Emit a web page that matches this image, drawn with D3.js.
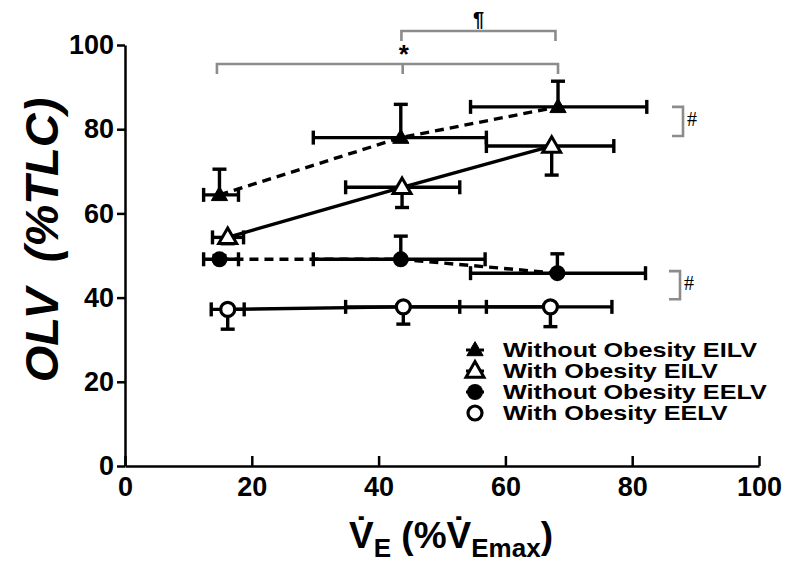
<!DOCTYPE html>
<html>
<head>
<meta charset="utf-8">
<script src="https://cdn.jsdelivr.net/npm/d3@7"></script>
<style>
  body { margin: 0; background: #fff; }
  svg { font-family: "Liberation Sans", Arial, sans-serif; }
  .axis path, .axis line { stroke: #000; stroke-width: 2.5; }
  .axis text { font-size: 27px; font-weight: bold; fill: #000; }
</style>
</head>
<body>
<svg width="787" height="566"></svg>
<script>
// series names (legend order)
var seriesNames = ["Without Obesity EILV", "With Obesity EILV", "Without Obesity EELV", "With Obesity EELV"];

// VE (%VEmax) means and horizontal error bar ends
var xWithoutEILV = [14.9, 43.5, 68.3];
var xWithEILV = [16.2, 43.7, 67.3];
var xWithoutEELV = [14.9, 43.5, 68.2];
var xWithEELV = [16.2, 43.9, 67.1];
var xLoWithoutEILV = [12.4, 29.7, 54.5], xHiWithoutEILV = [17.9, 57.0, 82.3];
var xLoWithEILV = [13.8, 34.8, 57.0], xHiWithEILV = [18.7, 52.8, 77.1];
var xLoWithoutEELV = [12.4, 29.7, 54.5], xHiWithoutEELV = [17.9, 56.8, 82.1];
var xLoWithEELV = [13.6, 34.8, 57.0], xHiWithEELV = [18.8, 52.8, 76.8];

// OLV (%TLC) means and vertical error bar ends (one side only)
var yWithoutEILV = [64.4, 78.0, 85.3];
var yWithEILV = [54.3, 66.2, 76.0];
var yWithoutEELV = [49.1, 49.1, 45.8];
var yWithEELV = [37.2, 37.8, 37.8];
var yEndWithoutEILV = [70.5, 85.9, 91.4];
var yEndWithEILV = [52.8, 61.4, 69.1];
var yEndWithoutEELV = [50.0, 54.6, 50.4];
var yEndWithEELV = [32.5, 33.7, 33.1];

var tickVals = [0, 20, 40, 60, 80, 100];

// significance brackets
var starBracket = [14.5, 43.8, 68.3];   // left, middle, right
var paraBracket = [43.6, 67.9];
var hashBrackets = [[85.3, 78.4], [46.3, 39.6]];

var series = [
  {name: seriesNames[0], x: xWithoutEILV, lo: xLoWithoutEILV, hi: xHiWithoutEILV, y: yWithoutEILV, yEnd: yEndWithoutEILV, shape: "tri", fill: "#000", dash: "9,6"},
  {name: seriesNames[1], x: xWithEILV, lo: xLoWithEILV, hi: xHiWithEILV, y: yWithEILV, yEnd: yEndWithEILV, shape: "tri", fill: "#fff", dash: null},
  {name: seriesNames[2], x: xWithoutEELV, lo: xLoWithoutEELV, hi: xHiWithoutEELV, y: yWithoutEELV, yEnd: yEndWithoutEELV, shape: "circ", fill: "#000", dash: "9,6"},
  {name: seriesNames[3], x: xWithEELV, lo: xLoWithEELV, hi: xHiWithEELV, y: yWithEELV, yEnd: yEndWithEELV, shape: "circ", fill: "#fff", dash: null}
];

var svg = d3.select("svg");
var x = d3.scaleLinear().domain([0, 100]).range([125, 759]);
var y = d3.scaleLinear().domain([0, 100]).range([466, 45]);

// axes
svg.append("g").attr("class", "axis")
  .attr("transform", "translate(0,466)")
  .call(d3.axisBottom(x).tickValues(tickVals).tickSize(-10).tickPadding(11).tickSizeOuter(0));
svg.append("g").attr("class", "axis")
  .attr("transform", "translate(125,0)")
  .call(d3.axisLeft(y).tickValues(tickVals).tickSize(8).tickPadding(3).tickSizeOuter(0));

// axis titles
svg.append("text")
  .attr("transform", "translate(58,240) rotate(-90)")
  .attr("text-anchor", "middle")
  .style("font-size", "47px").style("font-weight", "bold").style("font-style", "italic")
  .text("OLV\u00a0\u00a0(%TLC)");

var xt = svg.append("text")
  .attr("x", 451).attr("y", 548)
  .attr("text-anchor", "middle")
  .style("font-size", "37px").style("font-weight", "bold");
xt.append("tspan").text("V\u0307");
xt.append("tspan").attr("dy", 9).style("font-size", "26px").text("E");
xt.append("tspan").attr("dy", -9).text(" (%V\u0307");
xt.append("tspan").attr("dy", 9).style("font-size", "26px").text("Emax");
xt.append("tspan").attr("dy", -9).text(")");

var cap = 7;
var g = svg.append("g");

series.forEach(function(s) {
  var pts = s.x.map(function(v, i) { return {x: v, y: s.y[i], lo: s.lo[i], hi: s.hi[i], yEnd: s.yEnd[i]}; });
  var eb = g.append("g").attr("stroke", "#000").attr("stroke-width", 3.4).attr("fill", "none");
  pts.forEach(function(p) {
    eb.append("line").attr("x1", x(p.lo)).attr("x2", x(p.hi)).attr("y1", y(p.y)).attr("y2", y(p.y));
    eb.append("line").attr("x1", x(p.lo)).attr("x2", x(p.lo)).attr("y1", y(p.y) - cap).attr("y2", y(p.y) + cap);
    eb.append("line").attr("x1", x(p.hi)).attr("x2", x(p.hi)).attr("y1", y(p.y) - cap).attr("y2", y(p.y) + cap);
    eb.append("line").attr("x1", x(p.x)).attr("x2", x(p.x)).attr("y1", y(p.y)).attr("y2", y(p.yEnd));
    eb.append("line").attr("x1", x(p.x) - cap).attr("x2", x(p.x) + cap).attr("y1", y(p.yEnd)).attr("y2", y(p.yEnd));
  });
  g.append("path")
    .datum(pts)
    .attr("fill", "none").attr("stroke", "#000").attr("stroke-width", 3.4)
    .attr("stroke-dasharray", s.dash)
    .attr("d", d3.line().x(function(d) { return x(d.x); }).y(function(d) { return y(d.y); }));
});

function drawMarker(sel, s, cx, cy) {
  if (s.shape === "tri") {
    sel.append("path")
      .attr("d", d3.symbol().type(d3.symbolTriangle).size(s.fill === "#000" ? 115 : 140)())
      .attr("transform", "translate(" + cx + "," + (cy + 1) + ")")
      .attr("fill", s.fill).attr("stroke", "#000").attr("stroke-width", s.fill === "#000" ? 1 : 3);
  } else {
    sel.append("circle").attr("cx", cx).attr("cy", cy).attr("r", s.fill === "#000" ? 8 : 7)
      .attr("fill", s.fill).attr("stroke", "#000").attr("stroke-width", s.fill === "#000" ? 0 : 3.2);
  }
}

series.forEach(function(s) {
  s.x.forEach(function(v, i) { drawMarker(g, s, x(v), y(s.y[i])); });
});

// significance brackets
var br = svg.append("g").attr("stroke", "#8c8c8c").attr("stroke-width", 2.6).attr("fill", "none");
var yStar = 64, yPara = 31;
br.append("path").attr("d", "M" + x(starBracket[0]) + "," + (yStar + 10) + "V" + yStar + "H" + x(starBracket[2]) + "V" + (yStar + 10));
br.append("line").attr("x1", x(starBracket[1])).attr("x2", x(starBracket[1])).attr("y1", yStar).attr("y2", yStar + 10);
br.append("path").attr("d", "M" + x(paraBracket[0]) + "," + (yPara + 10) + "V" + yPara + "H" + x(paraBracket[1]) + "V" + (yPara + 10));
svg.append("text").attr("x", x(starBracket[1]) + 1).attr("y", yStar - 1).attr("text-anchor", "middle")
  .style("font-size", "26px").style("font-weight", "bold").text("*");
svg.append("text").attr("x", (x(paraBracket[0]) + x(paraBracket[1])) / 2).attr("y", yPara - 5).attr("text-anchor", "middle")
  .style("font-size", "20px").style("font-weight", "bold").text("\u00b6");

hashBrackets.forEach(function(h, i) {
  var xr = i === 0 ? 683 : 680;
  br.append("path").attr("d", "M" + (xr - 11) + "," + y(h[0]) + "H" + xr + "V" + y(h[1]) + "H" + (xr - 11));
  svg.append("text").attr("x", xr + 4).attr("y", (y(h[0]) + y(h[1])) / 2 + 5)
    .style("font-size", "20px").style("font-family", "'Liberation Serif', serif").text("#");
});

// legend
var leg = svg.append("g").attr("transform", "translate(475,350)");
series.forEach(function(s, i) {
  var row = leg.append("g").attr("transform", "translate(0," + (i * 21) + ")");
  if (i < 3) {
    row.append("line").attr("x1", -9).attr("x2", 9).attr("y1", 0).attr("y2", 0)
      .attr("stroke", "#000").attr("stroke-width", 3).attr("stroke-dasharray", s.dash ? "4,3" : null);
  }
  drawMarker(row, s, 0, 0);
  row.append("text").attr("transform", "translate(28,7) scale(1.26,1)")
    .style("font-size", "20px").style("font-weight", "bold").text(s.name);
});
</script>
</body>
</html>
